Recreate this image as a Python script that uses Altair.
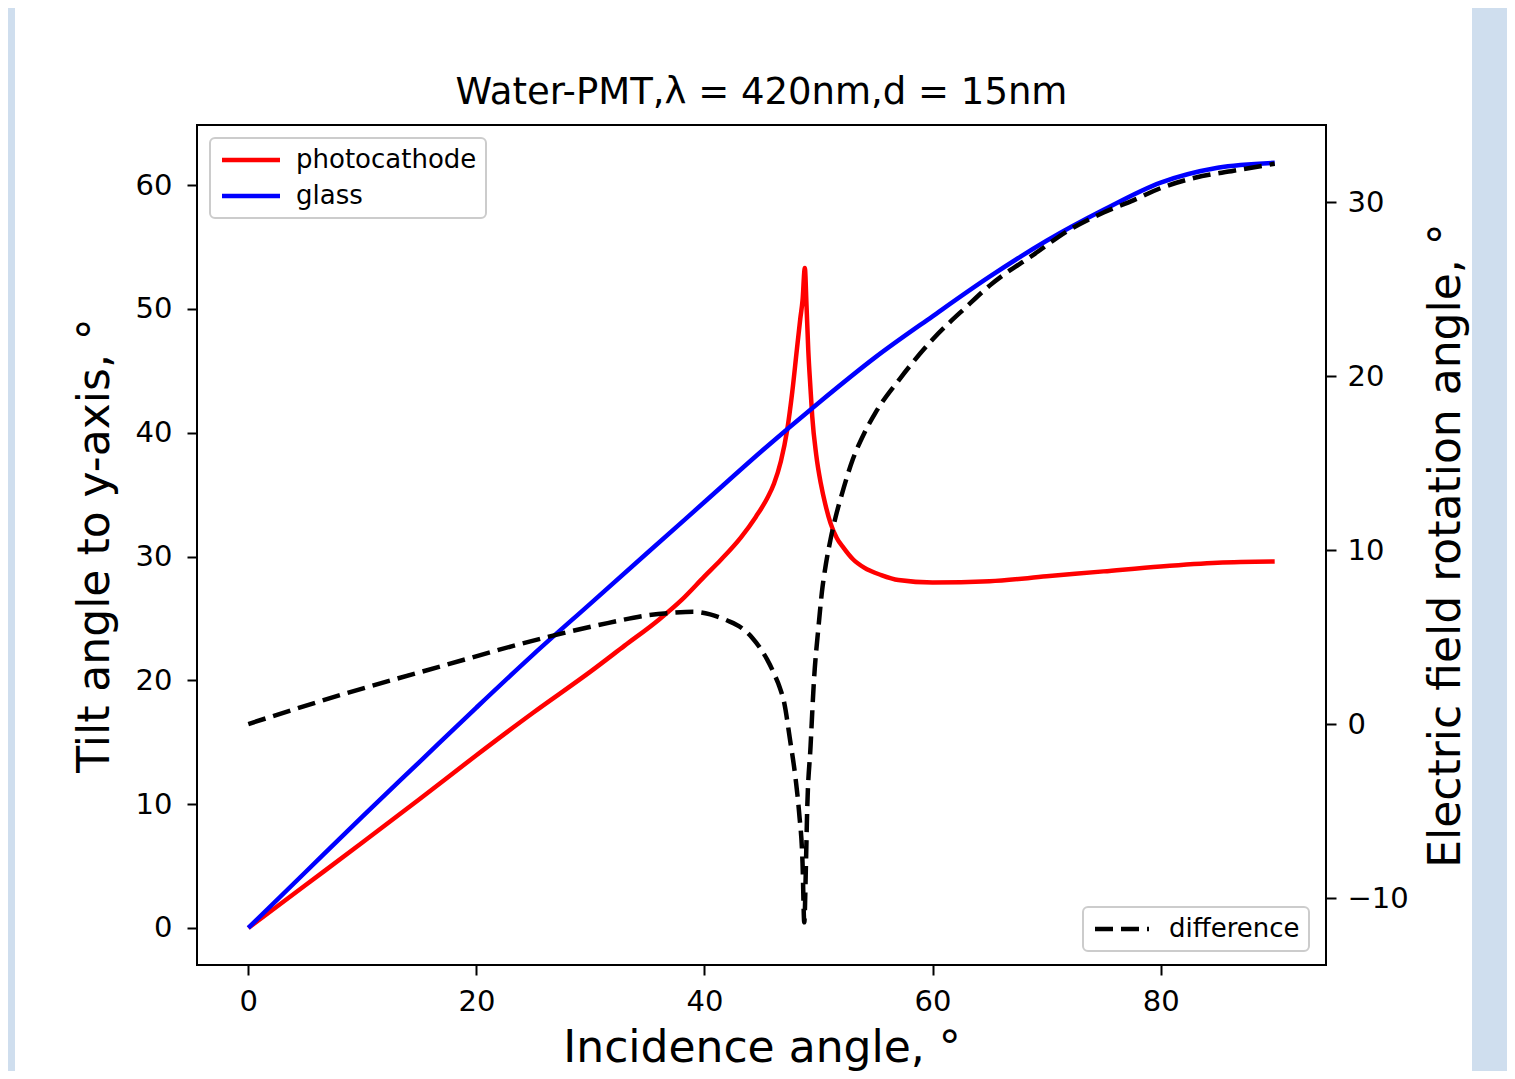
import altair as alt
import pandas as pd

# ---- data ----
glass_x = [0, 5, 10, 15, 20, 25, 30, 35, 40, 45, 50, 55, 60, 65, 70, 75, 80, 85, 90]
glass_y = [0, 4.5, 9.0, 13.4, 17.8, 22.1, 26.2, 30.3, 34.4, 38.5, 42.4, 46.1, 49.4, 52.6, 55.5, 58.0, 60.2, 61.4, 61.8]

photo_x = [0, 5, 10, 15, 20, 25, 30, 33, 36, 38, 40, 41.4, 43.2, 44.5, 45.5, 46.1, 46.7,
           47.25, 47.7, 48.1, 48.4, 48.6, 48.8, 48.95, 49.1, 49.3, 49.45, 49.8, 50.2, 50.6,
           51.05, 51.6, 52.2, 53, 54, 55.5, 57, 60, 65, 70, 75, 80, 85, 90]
photo_y = [0, 3.45, 6.9, 10.4, 13.95, 17.4, 20.7, 22.8, 24.9, 26.5, 28.4, 29.7, 31.55, 33.2, 34.7, 35.9, 37.7,
           40.2, 43.3, 46.7, 49.2, 50.7, 53.3, 50.2, 46.7, 43.5, 41.3, 38.2, 35.9, 34.2,
           32.7, 31.5, 30.7, 29.8, 29.1, 28.5, 28.1, 27.9, 28.0, 28.4, 28.8, 29.2, 29.5, 29.6]

diff_x = [0, 8.1, 16.8, 25.6, 31.5, 35, 37.3, 39, 40.5, 42, 43.2, 44.2, 44.9, 45.5, 46.1, 46.6,
          47.0, 47.5, 48.0, 48.3, 48.6, 48.75, 48.9, 49.0, 49.3, 49.6, 50.0, 50.3, 50.65, 51.05,
          51.5, 52, 53, 54, 55, 57.2, 60, 63, 65, 68.9, 72, 75, 77.6, 80, 83, 86.4, 90]
diff_y = [0, 1.67, 3.3, 4.9, 5.8, 6.25, 6.4, 6.45, 6.3, 5.95, 5.55, 4.95, 4.35, 3.7, 2.9, 2.1,
          1.2, -0.9, -3.2, -5.1, -8.0, -11.4, -8.0, -5.1, -1.3, 2.5, 5.6, 7.6, 9.2, 10.6,
          11.9, 13.1, 15.2, 16.7, 17.9, 19.9, 22.1, 24.0, 25.2, 27.0, 28.4, 29.4, 30.1, 30.8, 31.4, 31.8, 32.2]

series_names = ["photocathode", "glass"]
series_colors = ["#ff0000", "#0000ff"]
diff_name = "difference"

x_ticks = [0, 20, 40, 60, 80]
left_ticks = [0, 10, 20, 30, 40, 50, 60]
right_ticks = [-10, 0, 10, 20, 30]

title_text = "Water-PMT,λ = 420nm,d = 15nm"
x_title = "Incidence angle, °"
left_title = "Tilt angle to y-axis, °"
right_title = "Electric field rotation angle, °"

# ---- tables ----
df_lines = pd.DataFrame({
    "angle": photo_x + glass_x,
    "tilt": photo_y + glass_y,
    "series": [series_names[0]] * len(photo_x) + [series_names[1]] * len(glass_x),
    "idx": list(range(len(photo_x))) + list(range(len(glass_x))),
})
df_diff = pd.DataFrame({
    "angle": diff_x,
    "rot": diff_y,
    "series": [diff_name] * len(diff_x),
    "idx": list(range(len(diff_x))),
})
strip_df = pd.DataFrame({"k": [0]})

FONT = "DejaVu Sans"
STRIP = "#cfdeee"

axis_common = dict(
    domain=False, grid=False, tickColor="black", tickWidth=2, tickSize=10,
    labelFont=FONT, labelFontSize=29, labelColor="black",
    titleFont=FONT, titleFontSize=44, titleFontWeight="normal", titleColor="black",
)

x_axis = alt.Axis(values=x_ticks, title=x_title, labelPadding=12, titlePadding=10, **axis_common)
x_scale = alt.Scale(domain=[-4.5, 94.5], nice=False, zero=False)

left_strip = alt.Chart(strip_df).mark_rect(color=STRIP).encode(
    x=alt.value(-189), x2=alt.value(-182), y=alt.value(-117), y2=alt.value(946)
)
right_strip = alt.Chart(strip_df).mark_rect(color=STRIP).encode(
    x=alt.value(1275), x2=alt.value(1310), y=alt.value(-117), y2=alt.value(946)
)

lines = alt.Chart(df_lines).mark_line(strokeWidth=4.5, strokeJoin="round",
                                      interpolate="monotone").encode(
    x=alt.X("angle:Q", scale=x_scale, axis=x_axis),
    y=alt.Y("tilt:Q", scale=alt.Scale(domain=[-2.99, 64.85], nice=False, zero=False),
            axis=alt.Axis(orient="left", values=left_ticks, title=left_title,
                          labelPadding=15, titlePadding=18, **axis_common)),
    color=alt.Color("series:N",
                    scale=alt.Scale(domain=series_names, range=series_colors),
                    sort=series_names,
                    legend=alt.Legend(title=None, orient="none", legendX=13, legendY=13,
                                      direction="vertical", fillColor="white",
                                      strokeColor="#cccccc", cornerRadius=5, padding=9,
                                      labelFont=FONT, labelFontSize=26, labelColor="black",
                                      labelLimit=500,
                                      symbolType="M-1,0L4.8,0", symbolSize=400,
                                      symbolStrokeWidth=4.5, labelOffset=51, rowPadding=10)),
    order="idx:Q",
)

diff = alt.Chart(df_diff).mark_line(strokeWidth=4.5, color="black",
                                    interpolate="monotone").encode(
    x=alt.X("angle:Q", scale=x_scale, axis=x_axis),
    y=alt.Y("rot:Q", scale=alt.Scale(domain=[-13.85, 34.43], nice=False, zero=False),
            axis=alt.Axis(orient="right", values=right_ticks, title=right_title,
                          titleAngle=270, titleBaseline="top",
                          labelPadding=11, titlePadding=16, **axis_common)),
    strokeDash=alt.StrokeDash("series:N",
                              scale=alt.Scale(domain=[diff_name], range=[[18, 8]]),
                              legend=alt.Legend(title=None, orient="none", legendX=886, legendY=782,
                                                fillColor="white", strokeColor="#cccccc",
                                                cornerRadius=5, padding=9,
                                                labelFont=FONT, labelFontSize=26, labelColor="black",
                                                labelLimit=500,
                                                symbolType="M-1,0L4.4,0", symbolSize=400,
                                                symbolStrokeWidth=4.5, symbolStrokeColor="black",
                                                labelOffset=51)),
    order="idx:Q",
)

chart = alt.layer(left_strip, right_strip, lines, diff).resolve_scale(
    y="independent"
).properties(
    width=1129, height=840,
    autosize=alt.AutoSizeParams(type="none"),
    padding={"left": 189, "top": 117, "right": 181, "bottom": 106},
    background="white",
    title=alt.TitleParams(title_text, font=FONT, fontSize=37, fontWeight="normal",
                          color="black", anchor="middle", offset=20, dy=153,
                          baseline="alphabetic"),
).configure_view(stroke="black", strokeWidth=2).configure_legend(strokeWidth=2)

chart.save("out.html", embed_options={"renderer": "svg", "actions": False})
